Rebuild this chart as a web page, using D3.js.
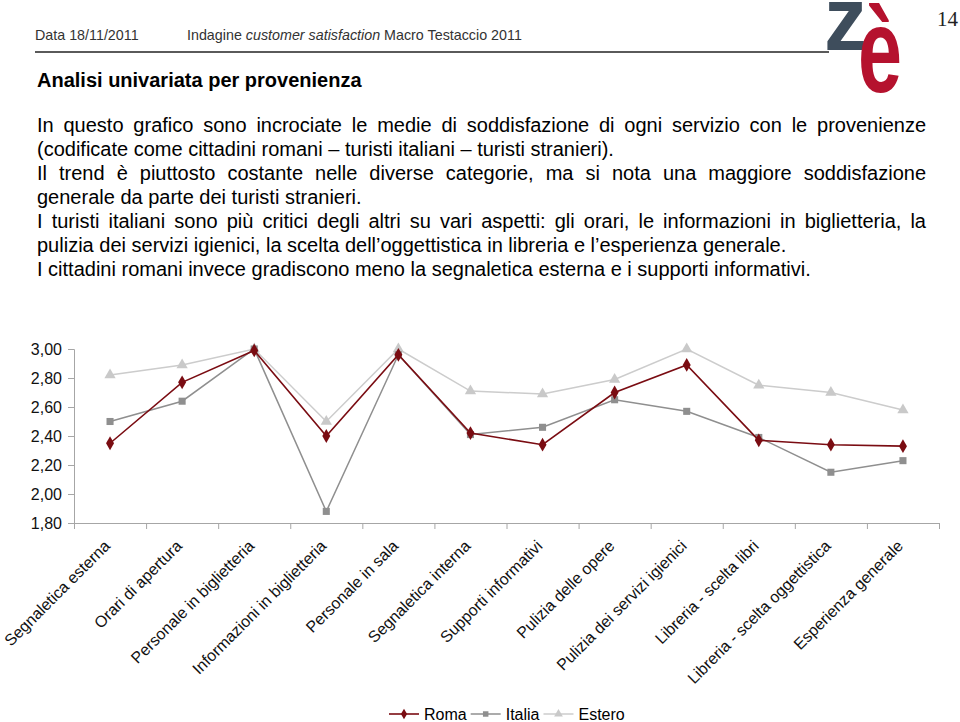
<!DOCTYPE html>
<html><head><meta charset="utf-8">
<script src="https://cdn.jsdelivr.net/npm/d3@7"></script>
<style>
body{margin:0;background:#fff;}
svg{display:block;font-family:"Liberation Sans",Arial,Helvetica,sans-serif;}
</style>
</head><body>
<svg id="c" width="960" height="722"></svg>
<script>
const categories = ["Segnaletica esterna","Orari di apertura","Personale in biglietteria","Informazioni in biglietteria","Personale in sala","Segnaletica interna","Supporti informativi","Pulizia delle opere","Pulizia dei servizi igienici","Libreria - scelta libri","Libreria - scelta oggettistica","Esperienza generale"];
const roma   = [2.35, 2.77, 2.99, 2.40, 2.96, 2.42, 2.34, 2.70, 2.89, 2.37, 2.34, 2.33];
const italia = [2.50, 2.64, 3.00, 1.88, 2.96, 2.41, 2.46, 2.65, 2.57, 2.39, 2.15, 2.23];
const estero = [2.82, 2.89, 3.00, 2.50, 3.00, 2.71, 2.69, 2.79, 3.00, 2.75, 2.70, 2.58];
const seriesNames = ["Roma","Italia","Estero"];
const yTicks = [1.8, 2.0, 2.2, 2.4, 2.6, 2.8, 3.0];
const headerDate = "Data 18/11/2011";
const pageNumber = "14";
const title = "Analisi univariata per provenienza";
const bodyLines = [
  ["In questo grafico sono incrociate le medie di soddisfazione di ogni servizio con le provenienze", true],
  ["(codificate come cittadini romani \u2013 turisti italiani \u2013 turisti stranieri).", false],
  ["Il trend \u00e8 piuttosto costante nelle diverse categorie, ma si nota una maggiore soddisfazione", true],
  ["generale da parte dei turisti stranieri.", false],
  ["I turisti italiani sono pi\u00f9 critici degli altri su vari aspetti: gli orari, le informazioni in biglietteria, la", true],
  ["pulizia dei servizi igienici, la scelta dell\u2019oggettistica in libreria e l\u2019esperienza generale.", false],
  ["I cittadini romani invece gradiscono meno la segnaletica esterna e i supporti informativi.", false]
];

const svg = d3.select("#c");

// Header
svg.append("text").attr("x", 35).attr("y", 40).attr("font-size", 14.3).attr("fill", "#333").text(headerDate);
const h2 = svg.append("text").attr("x", 187).attr("y", 40).attr("font-size", 14.3).attr("fill", "#333");
h2.append("tspan").text("Indagine ");
h2.append("tspan").attr("font-style", "italic").text("customer satisfaction");
h2.append("tspan").text(" Macro Testaccio 2011");
svg.append("line").attr("x1", 35).attr("x2", 829).attr("y1", 52).attr("y2", 52).attr("stroke", "#5a5a5a").attr("stroke-width", 2);

// Logo
svg.append("text").attr("transform", "translate(824,50) scale(1,1.06)").attr("font-size", 86).attr("font-weight", "bold").attr("fill", "#3e4d5c").text("z");
svg.append("text").attr("transform", "translate(858,92) scale(0.92,1.4)").attr("font-size", 86).attr("font-weight", "bold").attr("fill", "#b5122e").text("\u00e8");
svg.append("text").attr("x", 958).attr("y", 26).attr("text-anchor", "end").attr("font-family", "'Liberation Serif','Times New Roman',serif").attr("font-size", 21).attr("fill", "#222").text(pageNumber);

// Title
svg.append("text").attr("x", 37).attr("y", 87).attr("font-size", 20).attr("font-weight", "bold").attr("fill", "#000").text(title);

// Body
const bodyX = 37, bodyRight = 926;
bodyLines.forEach(([t, just], i) => {
  const el = svg.append("text").attr("x", bodyX).attr("y", 132 + i * 24).attr("font-size", 20).attr("fill", "#000").text(t);
  if (just) {
    const w = el.node().getComputedTextLength();
    const spaces = (t.match(/ /g) || []).length;
    el.attr("word-spacing", (bodyRight - bodyX - w) / spaces);
  }
});

// Chart
const margin = {left: 74, right: 939, top: 349, bottom: 523};
const x = d3.scaleBand().domain(categories).range([margin.left, margin.right]).padding(0);
const xb = d3.scaleLinear().domain([0, categories.length]).range([margin.left, margin.right]);
const y = d3.scaleLinear().domain([1.8, 3.0]).range([margin.bottom, margin.top]);
const fmt = v => d3.format(".2f")(v).replace(".", ",");

const yAxis = svg.append("g").attr("transform", `translate(${margin.left},0)`)
  .call(d3.axisLeft(y).tickValues(yTicks).tickFormat(fmt).tickSize(6).tickPadding(6));
yAxis.select(".domain").attr("stroke", "#a6a6a6");
yAxis.selectAll(".tick line").attr("stroke", "#a6a6a6");
yAxis.selectAll(".tick text").attr("font-size", 16).attr("fill", "#111").attr("font-family", "'Liberation Sans',Arial,sans-serif");

const xAxis = svg.append("g").attr("transform", `translate(0,${margin.bottom})`)
  .call(d3.axisBottom(xb).ticks(categories.length).tickFormat("").tickSize(6).tickSizeOuter(6));
xAxis.select(".domain").attr("stroke", "#a6a6a6");
xAxis.selectAll(".tick line").attr("stroke", "#a6a6a6");

svg.append("g").selectAll("text").data(categories).join("text")
  .attr("transform", d => `translate(${x(d) + x.bandwidth() / 2 + 1},${margin.bottom + 24}) rotate(-45)`)
  .attr("text-anchor", "end").attr("font-size", 16).attr("fill", "#111").text(d => d);

const series = [
  {name: seriesNames[0], values: roma, color: "#7a0c12", line: "#7a0c12", symbol: d3.symbolDiamond, size: 55, width: 1.6},
  {name: seriesNames[1], values: italia, color: "#8f8f8f", line: "#8f8f8f", symbol: d3.symbolSquare, size: 50, width: 1.5},
  {name: seriesNames[2], values: estero, color: "#c9c9c9", line: "#cccccc", symbol: d3.symbolTriangle, size: 55, width: 1.5}
];
const lineGen = d3.line().x((d, i) => x(categories[i]) + x.bandwidth() / 2).y(d => y(d));
[series[2], series[1], series[0]].forEach(s => {
  const g = svg.append("g");
  g.append("path").attr("d", lineGen(s.values)).attr("fill", "none").attr("stroke", s.line).attr("stroke-width", s.width);
  g.selectAll("path.m").data(s.values).join("path").attr("class", "m")
    .attr("transform", (d, i) => `translate(${x(categories[i]) + x.bandwidth() / 2},${y(d)})`)
    .attr("d", d3.symbol(s.symbol, s.size)).attr("fill", s.color);
});

// Legend
let lx = 389;
const ly = 714;
series.forEach(s => {
  const g = svg.append("g");
  g.append("line").attr("x1", lx).attr("x2", lx + 30).attr("y1", ly).attr("y2", ly).attr("stroke", s.line).attr("stroke-width", s.width);
  g.append("path").attr("transform", `translate(${lx + 15},${ly})`).attr("d", d3.symbol(s.symbol, s.size * 0.6)).attr("fill", s.color);
  const t = g.append("text").attr("x", lx + 35).attr("y", ly + 6).attr("font-size", 16).attr("fill", "#000").text(s.name);
  lx = lx + 35 + t.node().getComputedTextLength() + 4;
});
</script>
</body></html>
